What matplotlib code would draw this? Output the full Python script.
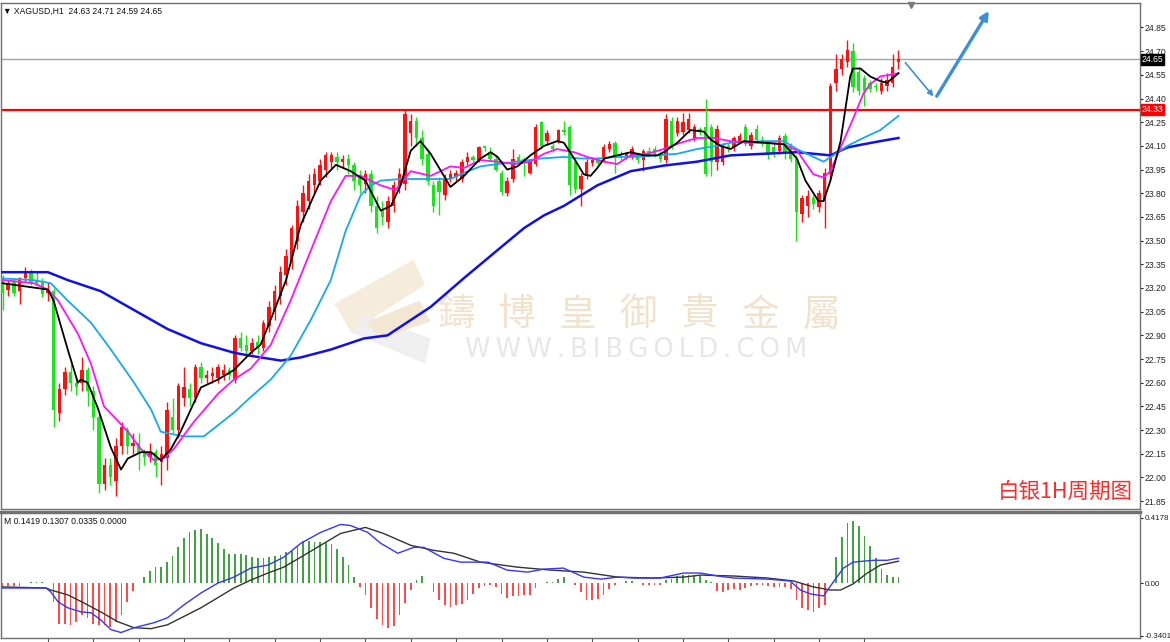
import numpy as np
import matplotlib
matplotlib.use("Agg")
import matplotlib.pyplot as plt
from matplotlib.patches import Polygon

plt.rcParams['font.family'] = ['Liberation Sans', 'DejaVu Sans']

# --- OHLC data, H1 bars (index 0..158) ---
opens = [23.26, 23.19, 23.24, 23.18, 23.26, 23.30, 23.25, 23.24, 23.17, 23.18,
         22.41, 22.56, 22.67, 22.60, 22.60, 22.68, 22.55, 22.38, 21.96, 22.08,
         21.98, 22.20, 22.30, 22.20, 22.22, 22.16, 22.13, 22.16, 22.10, 22.12,
         22.38, 22.30, 22.50, 22.56, 22.50, 22.70, 22.63, 22.64, 22.63, 22.65,
         22.68, 22.62, 22.88, 22.84, 22.80, 22.86, 22.82, 22.96, 23.05, 23.15,
         23.28, 23.36, 23.50, 23.68, 23.75, 23.85, 23.88, 23.95, 24.00, 24.03,
         24.00, 24.02, 23.98, 23.90, 23.86, 23.92, 23.72, 23.70, 23.62, 23.72,
         23.84, 23.86, 24.18, 24.26, 24.15, 24.05, 23.85, 23.88, 23.79, 23.89,
         23.90, 23.89, 24.00, 24.03, 24.01, 24.09, 24.06, 24.02, 23.93, 23.80,
         23.89, 24.03, 24.02, 23.93, 23.985, 24.25, 24.13, 24.10, 24.13, 24.20,
         24.22, 24.00, 23.83, 23.91, 23.99, 24.01, 24.02, 24.08, 24.12, 24.05,
         24.03, 24.04, 24.05, 24.01, 24.07, 24.08, 24.04, 24.01, 24.26, 24.18,
         24.19, 24.20, 24.15, 24.21, 24.22, 24.22, 24.00, 24.00, 24.10, 24.09,
         24.13, 24.22, 24.10, 24.21, 24.14, 24.12, 24.09, 24.07, 24.16, 24.10,
         24.02, 23.67, 23.72, 23.77, 23.71, 23.75, 23.92, 24.50, 24.59, 24.63,
         24.70, 24.57, 24.53, 24.50, 24.48, 24.45, 24.48, 24.50, 24.63]
closes = [23.17, 23.23, 23.17, 23.26, 23.30, 23.24, 23.23, 23.16, 23.19, 22.43,
          22.56, 22.67, 22.60, 22.57, 22.68, 22.55, 22.38, 21.96, 22.08, 22.00,
          22.20, 22.32, 22.20, 22.22, 22.15, 22.13, 22.16, 22.08, 22.15, 22.43,
          22.30, 22.58, 22.57, 22.50, 22.70, 22.63, 22.65, 22.66, 22.70, 22.68,
          22.65, 22.88, 22.82, 22.80, 22.85, 22.82, 22.98, 23.08, 23.18, 23.30,
          23.40, 23.58, 23.72, 23.80, 23.88, 23.92, 23.98, 24.04, 24.04, 24.00,
          24.02, 23.98, 23.88, 23.85, 23.92, 23.72, 23.58, 23.65, 23.75, 23.85,
          23.92, 24.30, 24.26, 24.15, 24.02, 23.88, 23.72, 23.81, 23.89, 23.92,
          23.93, 24.00, 24.03, 24.01, 24.09, 24.085, 24.02, 23.95, 23.81, 23.88,
          24.02, 24.00, 24.00, 24.01, 24.22, 24.10, 24.18, 24.08, 24.20, 24.19,
          23.85, 23.83, 23.91, 24.00, 24.01, 23.99, 24.09, 24.11, 24.03, 24.03,
          24.05, 24.08, 24.01, 24.07, 24.05, 24.05, 24.02, 24.27, 24.10, 24.26,
          24.25, 24.27, 24.22, 24.19, 23.92, 24.00, 24.21, 24.10, 24.08, 24.15,
          24.16, 24.11, 24.17, 24.14, 24.11, 24.04, 24.05, 24.15, 24.05, 24.02,
          23.68, 23.77, 23.78, 23.73, 23.80, 23.93, 24.48, 24.59, 24.65, 24.71,
          24.47, 24.45, 24.45, 24.46, 24.47, 24.50, 24.52, 24.60, 24.65]
highs = [23.28, 23.25, 23.26, 23.27, 23.33, 23.32, 23.30, 23.26, 23.24, 23.20,
         22.60, 22.70, 22.72, 22.63, 22.76, 22.70, 22.58, 22.40, 22.12, 22.12,
         22.25, 22.35, 22.32, 22.28, 22.28, 22.18, 22.22, 22.18, 22.20, 22.48,
         22.50, 22.60, 22.70, 22.60, 22.72, 22.73, 22.68, 22.70, 22.72, 22.72,
         22.70, 22.90, 22.92, 22.90, 22.88, 22.90, 23.00, 23.12, 23.22, 23.34,
         23.45, 23.60, 23.76, 23.85, 23.92, 23.96, 24.02, 24.06, 24.06, 24.06,
         24.04, 24.05, 24.00, 23.95, 23.95, 23.95, 23.78, 23.75, 23.78, 23.88,
         23.96, 24.33, 24.30, 24.28, 24.20, 24.08, 23.88, 23.90, 23.92, 23.95,
         23.95, 24.02, 24.06, 24.04, 24.10, 24.10, 24.09, 24.04, 23.95, 23.90,
         24.08, 24.05, 24.03, 24.02, 24.24, 24.26, 24.20, 24.12, 24.21, 24.26,
         24.23, 24.02, 23.93, 24.02, 24.03, 24.03, 24.11, 24.13, 24.13, 24.07,
         24.06, 24.10, 24.06, 24.08, 24.09, 24.10, 24.06, 24.30, 24.28, 24.28,
         24.31, 24.31, 24.24, 24.22, 24.40, 24.24, 24.23, 24.12, 24.12, 24.16,
         24.18, 24.24, 24.19, 24.23, 24.16, 24.14, 24.12, 24.17, 24.18, 24.12,
         24.04, 23.79, 23.82, 23.79, 23.82, 23.96, 24.50, 24.68, 24.68, 24.77,
         24.75, 24.60, 24.55, 24.52, 24.50, 24.53, 24.56, 24.68, 24.71]
lows = [23.06, 23.15, 23.15, 23.10, 23.24, 23.22, 23.21, 23.14, 23.12, 22.32,
        22.36, 22.52, 22.55, 22.52, 22.55, 22.45, 22.30, 21.90, 21.92, 21.95,
        21.88, 22.15, 22.15, 22.15, 22.05, 22.08, 22.10, 22.00, 21.95, 22.05,
        22.28, 22.25, 22.45, 22.45, 22.48, 22.60, 22.60, 22.60, 22.60, 22.62,
        22.62, 22.60, 22.80, 22.77, 22.78, 22.78, 22.80, 22.92, 23.00, 23.10,
        23.22, 23.32, 23.45, 23.62, 23.70, 23.80, 23.85, 23.90, 23.96, 23.95,
        23.96, 23.92, 23.82, 23.80, 23.80, 23.68, 23.55, 23.60, 23.58, 23.68,
        23.80, 23.82, 24.10, 24.10, 23.98, 23.85, 23.68, 23.66, 23.76, 23.87,
        23.88, 23.87, 23.98, 23.99, 24.00, 24.07, 24.01, 23.94, 23.79, 23.78,
        23.87, 23.98, 23.91, 23.92, 23.97, 24.08, 24.11, 24.06, 24.12, 24.17,
        23.79, 23.80, 23.72, 23.89, 23.97, 23.97, 24.00, 24.06, 23.93, 24.01,
        24.02, 24.02, 23.99, 23.94, 24.04, 24.03, 24.00, 23.99, 24.08, 24.16,
        24.17, 24.18, 24.13, 24.17, 23.91, 23.91, 23.95, 23.98, 24.06, 24.07,
        24.12, 24.10, 24.08, 24.12, 24.10, 24.02, 24.03, 24.05, 24.02, 24.00,
        23.50, 23.62, 23.65, 23.70, 23.68, 23.58, 23.88, 24.45, 24.55, 24.60,
        24.44, 24.42, 24.35, 24.44, 24.45, 24.43, 24.45, 24.47, 24.59]

# --- moving averages (read at turning points: bar index, price) ---
ma_black_i = [0, 8, 9, 11.5, 13.3, 13.8, 15, 16.8, 19.1, 20.9, 22.1, 24.4, 26.2, 27.9, 29.7, 31.4,
              35, 38, 40.8, 43.8, 45.5, 47.3, 50, 52.6, 56.1, 58.8, 61.4, 64, 66.7, 68.5, 70.2,
              72, 73.7, 75.5, 79, 81.4, 84.3, 86.1, 87.3, 89, 90.8, 93.1, 95.5, 97.8, 99,
              100.8, 102.5, 103.7, 104.9, 106.1, 108.4, 110.8, 113.1, 115.5, 116.6, 119, 121.3,
              123.7, 124.9, 126.6, 128.4, 130.7, 134.3, 137.8, 140.1, 141.6, 143.9, 144.8, 146,
              147.8, 149.5, 150, 151.3, 153, 154.8, 156, 158]
ma_black_p = [23.23, 23.19, 23.12, 22.81, 22.60, 22.62, 22.60, 22.44, 22.19, 22.05, 22.12, 22.16,
              22.16, 22.11, 22.18, 22.29, 22.57, 22.62, 22.68, 22.79, 22.84, 23.00, 23.25, 23.60,
              23.88, 23.98, 23.94, 23.88, 23.69, 23.72, 23.85, 24.07, 24.13, 24.05, 23.84, 23.91,
              24.02, 24.06, 24.03, 23.95, 23.97, 24.04, 24.10, 24.13, 24.12, 24.02, 23.92, 23.91,
              23.96, 24.02, 24.04, 24.06, 24.04, 24.04, 24.06, 24.12, 24.20, 24.19, 24.14, 24.10,
              24.08, 24.13, 24.12, 24.11, 24.02, 23.88, 23.75, 23.75, 23.88, 24.13, 24.54, 24.59,
              24.59, 24.54, 24.51, 24.50, 24.56]
ma_magenta_i = [0, 5.5, 8, 9.8, 13.3, 15.6, 17.9, 20.3, 22.1, 24.4, 26.7, 28.4, 30.2, 33.7, 38,
                40.8, 43.8, 47.3, 50.8, 54.4, 57.9, 60.5, 63.2, 66.7, 69.3, 72, 75.5, 79, 81.4,
                84.3, 87.3, 90.2, 93.1, 95.5, 97.8, 100.8, 103.1, 106.1, 108.4, 110.8, 113.7,
                116.6, 119.6, 122.5, 125.4, 128.4, 131.3, 134.3, 137.8, 140.1, 143, 144.8, 146,
                147.8, 150.1, 151.8, 153, 154.8, 158]
ma_magenta_p = [23.25, 23.23, 23.19, 23.12, 22.91, 22.72, 22.45, 22.36, 22.29, 22.18, 22.11, 22.12,
                22.18, 22.35, 22.53, 22.62, 22.69, 22.84, 23.12, 23.44, 23.75, 23.91, 23.91, 23.85,
                23.82, 23.94, 23.91, 23.97, 23.96, 24.01, 24.00, 23.985, 24.00, 24.05, 24.08, 24.06,
                24.03, 24.00, 23.985, 24.04, 24.05, 24.08, 24.12, 24.15, 24.15, 24.13, 24.12, 24.12,
                24.11, 24.07, 23.92, 23.90, 23.94, 24.09, 24.28, 24.43, 24.49, 24.54, 24.56]
ma_sky_i = [0, 5.5, 8.5, 11.5, 15.6, 19.1, 23.2, 26.2, 27.9, 29.1, 32, 35.5, 40.8, 43.8, 47.3,
            50.8, 54.4, 57.9, 60.5, 63.2, 65, 66.7, 70.2, 75.5, 79, 81.4, 84.3, 87.3, 90.8,
            94.9, 99, 101.9, 104.9, 108.4, 111.9, 115.5, 119, 122.5, 126, 128.4, 134.3, 137.8,
            140.1, 143, 144.8, 146.5, 149, 151.8, 154.8, 158]
ma_sky_p = [23.26, 23.25, 23.23, 23.12, 22.98, 22.81, 22.60, 22.43, 22.29, 22.28, 22.26, 22.26,
            22.41, 22.51, 22.62, 22.77, 23.00, 23.25, 23.56, 23.79, 23.85, 23.88, 23.89, 23.89,
            23.89, 23.93, 23.97, 23.985, 24.00, 24.02, 24.03, 24.02, 24.02, 24.03, 24.03, 24.04,
            24.05, 24.08, 24.10, 24.12, 24.13, 24.13, 24.08, 24.03, 24.00, 24.04, 24.10, 24.15,
            24.20, 24.29]
ma_blue_i = [0, 8, 11.5, 17.3, 23.2, 29.1, 35, 40.8, 43.8, 49.1, 52.6, 57.9, 63.7, 67.9, 75.5,
             81.3, 87.3, 92, 95.5, 99, 104.9, 110.8, 116.6, 122.5, 128.4, 134.3, 140.1, 146,
             149, 151.8, 154.8, 158]
ma_blue_p = [23.30, 23.30, 23.25, 23.18, 23.06, 22.94, 22.85, 22.79, 22.77, 22.74, 22.76, 22.81,
             22.88, 22.90, 23.08, 23.26, 23.44, 23.58, 23.66, 23.72, 23.85, 23.94, 23.975, 24.00,
             24.04, 24.05, 24.06, 24.04, 24.09, 24.11, 24.13, 24.15]

# --- MACD panel ---
macd_hist = [-0.02, -0.02, -0.02, -0.02, 0.0, 0.006, 0.006, 0.006, 0.0, -0.12,
             -0.26, -0.265, -0.27, -0.25, -0.205, -0.227, -0.26, -0.27, -0.27, -0.28,
             -0.25, -0.205, -0.12, -0.053, 0.0, 0.038, 0.08, 0.10, 0.10, 0.134,
             0.176, 0.23, 0.29, 0.325, 0.34, 0.345, 0.315, 0.29, 0.26, 0.22,
             0.187, 0.187, 0.187, 0.18, 0.17, 0.16, 0.16, 0.165, 0.176, 0.18,
             0.197, 0.208, 0.24, 0.27, 0.27, 0.265, 0.265, 0.26, 0.25, 0.22,
             0.17, 0.115, 0.04, -0.025, -0.08, -0.16, -0.23, -0.27, -0.29, -0.275,
             -0.205, -0.13, -0.047, 0.017, 0.042, 0.0, -0.057, -0.11, -0.14, -0.153,
             -0.14, -0.136, -0.11, -0.068, -0.03, -0.02, -0.01, -0.025, -0.068, -0.095,
             -0.083, -0.083, -0.08, -0.074, -0.03, 0.0, 0.006, 0.006, 0.023, 0.038,
             0.0, -0.015, -0.06, -0.11, -0.11, -0.10, -0.074, -0.036, -0.015, 0.0,
             0.01, 0.01, 0.0, -0.01, -0.01, -0.01, -0.015, 0.017, 0.028, 0.042,
             0.049, 0.049, 0.042, 0.042, 0.017, 0.006, -0.053, -0.06, -0.047, -0.04,
             -0.042, -0.032, -0.02, -0.01, -0.015, -0.02, -0.025, -0.025, -0.025, -0.04,
             -0.11, -0.16, -0.174, -0.185, -0.163, -0.138, 0.0, 0.17, 0.297, 0.384,
             0.40, 0.363, 0.303, 0.24, 0.16, 0.09, 0.049, 0.038, 0.038]
macd_blue_i = [0, 7.7, 8.5, 9.8, 11.5, 13.8, 15.6, 17.3, 19.1, 20.9, 23.2, 26.7, 29.1, 32, 35,
               38, 40.8, 43.8, 46.8, 49.6, 52.6, 56.1, 59.6, 61.4, 64.4, 66.7, 69.7, 72.5, 74.3,
               77.8, 80.8, 85.6, 89, 92.6, 95.4, 98.9, 102.5, 105.5, 108.5, 111.3, 116, 120.1,
               123.1, 126.1, 129, 134.9, 138.9, 140.7, 142.5, 144.8, 146.5, 148.3, 150, 153.6,
               156, 158]
macd_blue_v = [-0.032, -0.032, -0.057, -0.121, -0.159, -0.185, -0.191, -0.236, -0.299, -0.318,
               -0.287, -0.255, -0.223, -0.140, -0.064, 0.0, 0.038, 0.096, 0.115, 0.166, 0.255,
               0.325, 0.376, 0.369, 0.325, 0.255, 0.191, 0.229, 0.229, 0.159, 0.134, 0.134,
               0.083, 0.070, 0.089, 0.096, 0.038, 0.025, 0.038, 0.032, 0.032, 0.064, 0.064,
               0.045, 0.032, 0.025, 0.013, -0.045, -0.070, -0.083, 0.006, 0.096, 0.134, 0.146,
               0.146, 0.159]
macd_black_i = [0, 7.7, 8.5, 11.5, 14.3, 17.3, 20.3, 23.2, 26.2, 29.1, 35, 40.8, 43.8, 46.8,
                49.6, 52.6, 56.1, 59.6, 64, 67.2, 72, 76, 79.6, 84.3, 90.8, 96.7, 102.5, 108.5,
                114.3, 120.1, 123.1, 129, 134.9, 139.5, 143, 146, 147.8, 150, 152.5, 154.8, 158]
macd_black_v = [-0.025, -0.032, -0.045, -0.076, -0.127, -0.185, -0.248, -0.287, -0.293, -0.268,
                -0.159, -0.032, 0.019, 0.064, 0.102, 0.166, 0.242, 0.318, 0.357, 0.318, 0.242,
                0.210, 0.191, 0.134, 0.102, 0.083, 0.070, 0.038, 0.032, 0.038, 0.051, 0.045,
                0.032, 0.013, -0.025, -0.045, -0.045, -0.006, 0.064, 0.115, 0.140]

price_ticks = [21.85, 22.00, 22.15, 22.30, 22.45, 22.60, 22.75, 22.90, 23.05, 23.20, 23.35,
               23.50, 23.65, 23.80, 23.95, 24.10, 24.25, 24.40, 24.55, 24.70, 24.85]
last_price = 24.65
level = 24.33

fig = plt.figure(figsize=(11.7, 6.42), dpi=100)
ax = fig.add_axes([0.0008, 1 - 509 / 642, 1140 / 1170 - 0.0008, 506 / 642])
ax2 = fig.add_axes([0.0008, 4 / 642, 1140 / 1170 - 0.0008, 126 / 642])

xlim = (-0.28, 200.6)
idx = np.arange(len(opens))
o = np.array(opens); c = np.array(closes)
up = c >= o
col = np.where(up, '#ff1010', '#19e619')

# candles
ax.vlines(idx, lows, highs, colors=col, lw=1, zorder=3)
body = np.maximum(np.abs(c - o), 0.012)
ax.bar(idx, body, bottom=np.minimum(o, c), width=0.6, color=col, zorder=4, linewidth=0)

# moving averages
ax.plot(ma_blue_i, ma_blue_p, color='#1010e8', lw=1.8, zorder=5)
ax.plot(ma_sky_i, ma_sky_p, color='#12aaf2', lw=1.3, zorder=5)
ax.plot(ma_magenta_i, ma_magenta_p, color='#ff10ff', lw=1.3, zorder=5)
ax.plot(ma_black_i, ma_black_p, color='black', lw=1.3, zorder=6)

# horizontal levels
ax.axhline(last_price, color='#9aa5ae', lw=1, zorder=2)
ax.axhline(level, color='#ff0000', lw=1.6, zorder=2)

# projection arrows
ax.annotate('', xy=(164.5, 24.40), xytext=(158.9, 24.64),
            arrowprops=dict(arrowstyle='-|>', color='#3b8fd9', lw=1.2, mutation_scale=8))
ax.annotate('', xy=(174.2, 24.97), xytext=(164.5, 24.40),
            arrowprops=dict(arrowstyle='-|>', color='#3b8fd9', lw=2.4, mutation_scale=12))

ax.set_xlim(*xlim)
ax.set_ylim(21.80, 25.005)
ax.set_xticks([])
ax.yaxis.tick_right()
ax.set_yticks(price_ticks)
ax.set_yticklabels(['%.2f' % t for t in price_ticks])
ax.tick_params(axis='y', length=2, width=0.8, pad=1.5, labelsize=6.2, colors='#222222')
for s in ax.spines.values():
    s.set_color('#707070'); s.set_linewidth(1)

# price tags
ax.text(1.0015, last_price, '%.2f' % last_price, transform=ax.get_yaxis_transform(),
        ha='left', va='center', fontsize=6.2, color='white',
        bbox=dict(boxstyle='square,pad=0.12', fc='black', ec='black'), zorder=10, clip_on=False)
ax.text(1.0015, level, '%.2f' % level, transform=ax.get_yaxis_transform(),
        ha='left', va='center', fontsize=6.2, color='white',
        bbox=dict(boxstyle='square,pad=0.12', fc='#ff0000', ec='#ff0000'), zorder=10, clip_on=False)

# header
ax.text(0.002, 0.992, '\u25bc XAGUSD,H1  24.63 24.71 24.59 24.65', transform=ax.transAxes,
        ha='left', va='top', fontsize=6.2, color='#111111', family=['Liberation Sans', 'DejaVu Sans'])
ax.plot([160.2], [24.995], marker='v', color='#7a7a7a', ms=5, clip_on=False, zorder=10)

# watermark
logo_a = Polygon([(58.5, 23.10), (72.5, 23.38), (74.5, 23.22), (61.5, 22.92)], closed=True,
                 fc='#f6ecdc', ec='none', zorder=1)
logo_b = Polygon([(61.5, 22.92), (74.5, 22.72), (75.5, 22.88), (64, 23.03)], closed=True,
                 fc='#efefef', ec='none', zorder=1)
logo_c = Polygon([(64, 22.98), (73.5, 23.12), (75.5, 22.99), (67, 22.88)], closed=True,
                 fc='#f3e6d2', ec='none', zorder=1)
for p in (logo_a, logo_b, logo_c):
    ax.add_patch(p)
wm_cn = '鑄博皇御貴金屬'
for k, ch in enumerate(wm_cn):
    ax.text((455 + 61 * k) / 1140, 1 - (315 - 3) / 506, ch, transform=ax.transAxes,
            ha='center', va='center', fontsize=27, color='#f3e2cb',
            family=['Noto Sans CJK TC', 'DejaVu Sans'], zorder=1)
wm_en = '\u2009'.join('WWW.BIBGOLD.COM')
ax.text(636 / 1140, 1 - (350 - 3) / 506, wm_en, transform=ax.transAxes,
        ha='center', va='center', fontsize=18.5, color='#e7e7e7',
        family=['DejaVu Sans'], zorder=1)

ax.text(0.994, 1 - (492 - 3) / 506, '白银1H周期图', transform=ax.transAxes, ha='right',
        va='center', fontsize=15.5, color='#ff2a2a',
        family=['Noto Sans CJK SC', 'DejaVu Sans'], zorder=8)

# MACD panel
hist = np.array(macd_hist)
hcol = np.where(hist >= 0, '#3fa33f', '#ff4a4a')
ax2.bar(idx, hist, width=0.3, color=hcol, linewidth=0, zorder=2)
ax2.plot(macd_black_i, macd_black_v, color='#333333', lw=1, zorder=3)
ax2.plot(macd_blue_i, macd_blue_v, color='#3535ff', lw=1, zorder=4)
ax2.set_xlim(*xlim)
ax2.set_ylim(-0.353, 0.456)
ax2.yaxis.tick_right()
ax2.set_yticks([0.4178, 0.0, -0.3401])
ax2.set_yticklabels(['0.4178', '0.00', '-0.3401'])
ax2.tick_params(axis='y', length=2, width=0.8, pad=1.5, labelsize=5.8, colors='#222222')
ax2.set_xticks(np.arange(8, 160, 8))
ax2.set_xticklabels([])
ax2.tick_params(axis='x', length=4, width=0.8, direction='out', colors='#555555')
for s in ax2.spines.values():
    s.set_color('#707070'); s.set_linewidth(1)
ax2.spines['top'].set_linewidth(2.5)
ax2.text(0.003, 0.96, 'M 0.1419 0.1307 0.0335 0.0000', transform=ax2.transAxes,
         ha='left', va='top', fontsize=6.2, color='#111111')

fig.savefig('out.png', dpi=100, facecolor='white')
